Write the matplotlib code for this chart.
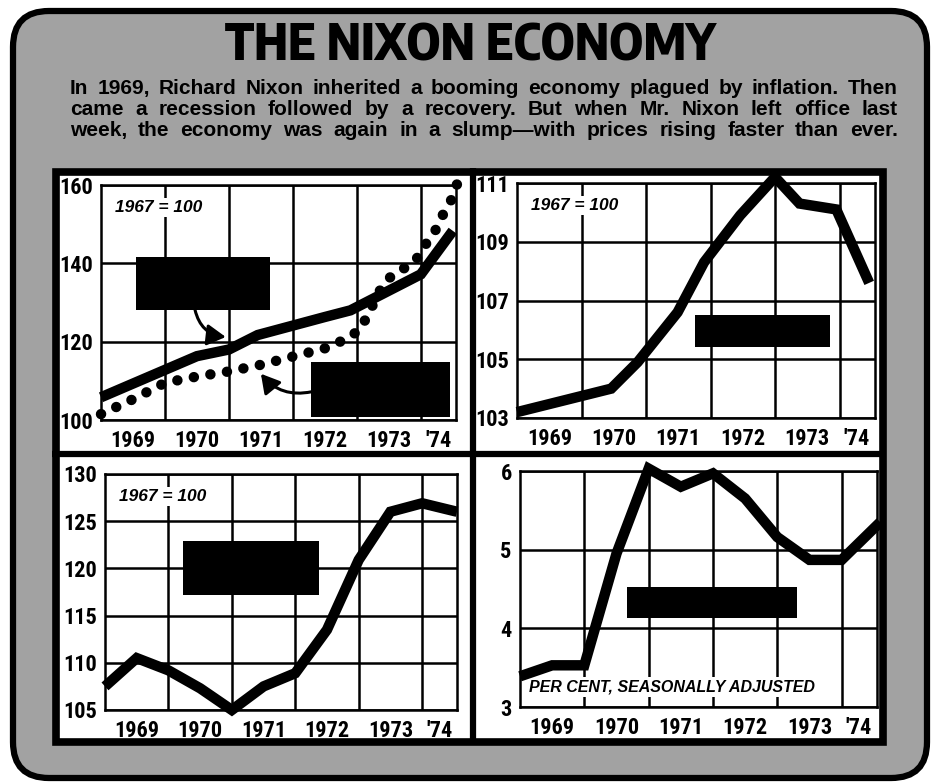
import matplotlib
matplotlib.use("Agg")
import matplotlib.pyplot as plt
from matplotlib import font_manager
from matplotlib.patches import FancyBboxPatch, Rectangle
from matplotlib.ticker import NullFormatter

W, H = 935, 784

# decimal years for the x axis
grid_years = [1970, 1971, 1972, 1973, 1974]
label_pos = [1969.5, 1970.5, 1971.5, 1972.5, 1973.5, 1974.27]
year_labels = ["1969", "1970", "1971", "1972", "1973", "'74"]
semi_years = [1969.0, 1969.5, 1970.0, 1970.5, 1971.0, 1971.5,
              1972.0, 1972.5, 1973.0, 1973.5, 1974.0, 1974.55]

# consumer prices (solid) and wholesale prices (dotted), 1967 = 100
cpi_x = [1969.0, 1970.5, 1971.0, 1971.45, 1972.5, 1972.9, 1974.0, 1974.5]
cpi = [105.8, 116.3, 118.0, 121.7, 126.3, 128.0, 137.2, 148.3]
wpi_x = [1969.0, 1969.5, 1970.0, 1970.5, 1971.0, 1971.5, 1972.0, 1972.5,
         1972.85, 1973.05, 1973.2, 1973.35, 1973.5, 1973.7, 1973.92,
         1974.07, 1974.23, 1974.36, 1974.49, 1974.57]
wpi = [101.5, 105.3, 109.5, 111.1, 112.4, 114.1, 116.2, 118.3,
       120.8, 123.1, 127.7, 132.8, 136.2, 138.3, 140.8,
       144.7, 148.5, 152.9, 156.6, 160.4]

# productivity, 1967 = 100
prod_x = [1969.0, 1970.46, 1970.87, 1971.49, 1971.9, 1972.46, 1973.0,
          1973.38, 1973.95, 1974.46]
prod = [103.2, 104.0, 104.9, 106.6, 108.3, 109.9, 111.2, 110.3, 110.1, 107.6]

# industrial production, 1967 = 100
indprod = [107.5, 110.5, 109.2, 107.3, 105.0, 107.5, 108.9, 113.5,
           120.9, 126.0, 126.9, 126.0]

# unemployment rate, per cent
unemp_x = semi_years[:-1] + [1974.6]
unemp = [3.39, 3.53, 3.53, 4.95, 6.03, 5.80, 5.97, 5.65, 5.16, 4.87, 4.87, 5.35]

title = "THE NIXON ECONOMY"
blurb = [
    "In 1969, Richard Nixon inherited a booming economy plagued by inflation. Then",
    "came a recession followed by a recovery. But when Mr. Nixon left office last",
    "week, the economy was again in a slump\u2014with prices rising faster than ever.",
]


def _wnum(w):
    return w if isinstance(w, (int, float)) else font_manager.weight_dict.get(w, 400)


def pick_family(candidates, min_weight, fallback):
    for name in candidates:
        if any(f.name == name and _wnum(f.weight) >= min_weight
               for f in font_manager.fontManager.ttflist):
            return name
    return fallback


SANS = "Liberation Sans"
condensed = ["Roboto Condensed", "IBM Plex Sans Condensed", "Encode Sans Condensed",
             "Fira Sans Condensed", "Archivo Narrow", "Barlow Condensed",
             "Asap Condensed", "Liberation Sans Narrow"]
NARROW = pick_family(condensed, 700, SANS)
HEAVY = pick_family(condensed, 800, NARROW)
tick_size = 16 if NARROW != SANS else 13.5
plt.rcParams["font.family"] = [NARROW, "DejaVu Sans"]
plt.rcParams["font.weight"] = "bold"


def px_axes(fig, x0, y0, x1, y1):
    return fig.add_axes([x0 / W, 1 - y1 / H, (x1 - x0) / W, (y1 - y0) / H])


def panel(fig, box, ylim, yticks):
    ax = px_axes(fig, *box)
    ax.set_xlim(1969, 1974.55)
    ax.set_ylim(*ylim)
    ax.set_xticks(grid_years)
    ax.xaxis.set_major_formatter(NullFormatter())
    ax.set_xticks(label_pos, labels=year_labels, minor=True)
    ax.set_yticks(yticks, labels=[str(v) for v in yticks])
    ax.tick_params(which="both", length=0, labelsize=tick_size)
    ax.tick_params(axis="x", which="minor", pad=7)
    ax.tick_params(axis="y", pad=6)
    ax.grid(True, which="major", color="black", lw=1.8, zorder=1)
    ax.set_axisbelow(True)
    for s in ax.spines.values():
        s.set_linewidth(1.8)
    return ax


def base_note(ax, text, x, y):
    ax.text(x, y, text, transform=ax.transAxes, family=SANS, style="italic",
            weight="bold", fontsize=12.5, va="center", ha="left", zorder=4,
            bbox=dict(fc="white", ec="none", pad=1.5))


def black_box(ax, x0, x1, y0, y1):
    ax.add_patch(Rectangle((x0, y0), x1 - x0, y1 - y0, fc="black", ec="none", zorder=3))


def pointer(ax, start, end, rad):
    ax.annotate("", xy=end, xytext=start, zorder=4,
                arrowprops=dict(arrowstyle="-|>,head_length=0.7,head_width=0.4",
                                color="black", lw=2.2, mutation_scale=16,
                                shrinkA=0, shrinkB=0,
                                connectionstyle=f"arc3,rad={rad}"))


def justify(ax, renderer, words, x0, x1, y, **kw):
    # lay the words out so the line runs flush from x0 to x1
    texts = [ax.text(0, y, w, ha="left", va="center", **kw) for w in words]
    widths = [t.get_window_extent(renderer).width for t in texts]
    gap = (x1 - x0 - sum(widths)) / (len(words) - 1)
    x = x0
    for t, w in zip(texts, widths):
        t.set_x(x)
        x += w + gap


fig = plt.figure(figsize=(W / 100, H / 100), dpi=100)
renderer = fig.canvas.get_renderer()

# grey rounded card with the white chart frame
bg = fig.add_axes([0, 0, 1, 1])
bg.set_xlim(0, W)
bg.set_ylim(H, 0)
bg.axis("off")
bg.add_patch(FancyBboxPatch((13, 11), 914, 767, boxstyle="round,pad=0,rounding_size=36",
                            fc="#a2a2a2", ec="black", lw=4.5))
bg.add_patch(Rectangle((55.5, 171.5), 827, 570, fc="white", ec="black", lw=5.5))
bg.plot([473, 473], [168, 745], color="black", lw=4.5, solid_capstyle="butt")
bg.plot([52, 886], [454, 454], color="black", lw=4.5, solid_capstyle="butt")

head = bg.text(470, 46, title, ha="center", va="center", fontsize=40,
               family=HEAVY, weight="heavy" if HEAVY != NARROW else "bold")
head_w = head.get_window_extent(renderer).width
head.set_fontsize(40 * 490 / head_w)

for i, line in enumerate(blurb):
    justify(bg, renderer, line.split(" "), 70, 898, 88 + i * 21,
            fontsize=15, weight="bold", family=SANS)

line_kw = dict(color="black", lw=7.5, solid_joinstyle="miter", solid_capstyle="butt",
               clip_on=False, zorder=5)

# prices
ax1 = panel(fig, (101, 185, 456, 420), (100, 160), [100, 120, 140, 160])
ax1.plot(cpi_x, cpi, **line_kw)
ax1.plot(wpi_x, wpi, color="black", lw=7.5, linestyle=(0, (0.01, 1.6)),
         dash_capstyle="round", clip_on=False, zorder=5)
base_note(ax1, "1967 = 100", 0.04, 0.905)
black_box(ax1, 1969.55, 1971.64, 128.1, 141.7)
black_box(ax1, 1972.29, 1974.45, 100.8, 114.9)
pointer(ax1, (1970.47, 128.1), (1970.95, 121.2), 0.35)
pointer(ax1, (1972.29, 107.2), (1971.5, 111.8), -0.3)

# productivity
ax2 = panel(fig, (517, 183, 875, 418), (103, 111), [103, 105, 107, 109, 111])
ax2.plot(prod_x, prod, **line_kw)
base_note(ax2, "1967 = 100", 0.04, 0.905)
black_box(ax2, 1971.76, 1973.85, 105.43, 106.5)

# industrial production
ax3 = panel(fig, (105, 474, 457, 710), (105, 130), [105, 110, 115, 120, 125, 130])
ax3.plot(semi_years, indprod, **line_kw)
base_note(ax3, "1967 = 100", 0.04, 0.905)
black_box(ax3, 1970.23, 1972.37, 117.2, 122.9)

# unemployment
ax4 = panel(fig, (520, 471, 877, 707), (3, 6), [3, 4, 5, 6])
ax4.plot(unemp_x, unemp, **line_kw)
ax4.text(0.025, 0.085, "PER CENT, SEASONALLY ADJUSTED", transform=ax4.transAxes,
         family=SANS, style="italic", weight="bold", fontsize=11.5, va="center",
         ha="left", zorder=4, bbox=dict(fc="white", ec="none", pad=1.5))
black_box(ax4, 1970.66, 1973.31, 4.13, 4.53)

fig.savefig("out.png", dpi=100, facecolor="white")
